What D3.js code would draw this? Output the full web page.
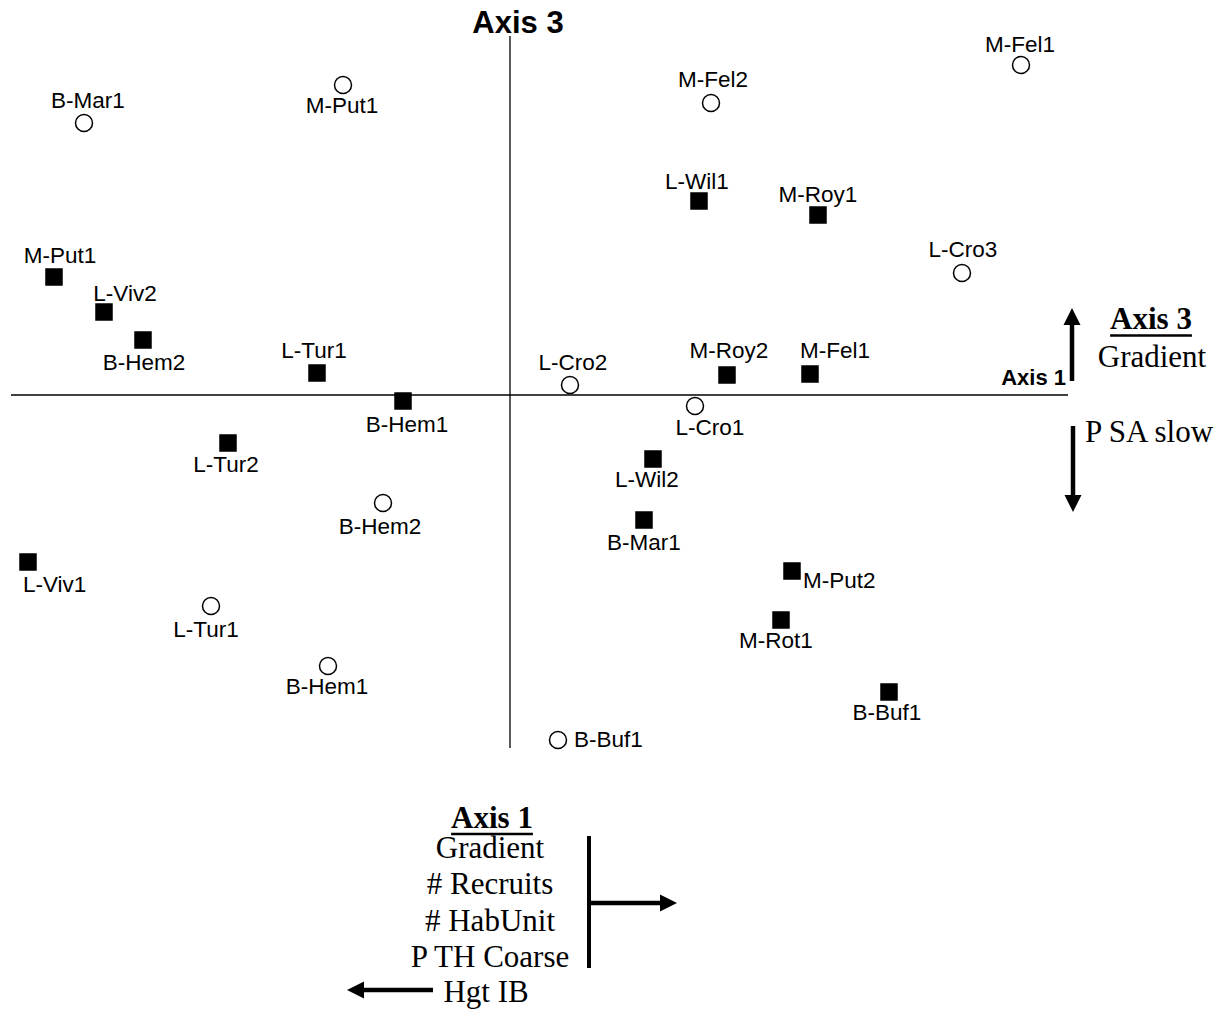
<!DOCTYPE html>
<html>
<head>
<meta charset="utf-8">
<script src="https://cdn.jsdelivr.net/npm/d3@7"></script>
<style>
  html, body { margin: 0; padding: 0; background: #fff; }
  svg { display: block; }
</style>
</head>
<body>
<svg id="chart" width="1223" height="1015"></svg>
<script>
// ---- Data (ordination scores, Axis 1 = x, Axis 3 = y) ----
const circleLabels = ["B-Mar1","M-Put1","M-Fel1","M-Fel2","L-Cro3","L-Cro2","L-Cro1","B-Hem2","L-Tur1","B-Hem1","B-Buf1"];
const circleAxis1  = [-2.13, -0.835, 2.555, 1.005, 2.26, 0.30, 0.925, -0.635, -1.495, -0.91, 0.24];
const circleAxis3  = [ 1.36,  1.55,  1.65,  1.46,  0.61, 0.05, -0.055, -0.54, -1.055, -1.355, -1.725];

const squareLabels = ["M-Put1","L-Viv2","B-Hem2","L-Tur1","B-Hem1","L-Tur2","L-Viv1","L-Wil1","M-Roy1","M-Roy2","M-Fel1","L-Wil2","B-Mar1","M-Put2","M-Rot1","B-Buf1"];
const squareAxis1  = [-2.28, -2.03, -1.835, -0.965, -0.535, -1.41, -2.41, 0.945, 1.54, 1.085, 1.50, 0.715, 0.67, 1.41, 1.355, 1.895];
const squareAxis3  = [ 0.59,  0.415, 0.275,  0.11,  -0.03,  -0.24, -0.835, 0.97, 0.90, 0.10, 0.105, -0.32, -0.625, -0.88, -1.125, -1.485];

const axis1Legend = ["Gradient", "# Recruits", "# HabUnit", "P TH Coarse"];
const axis1LegendNeg = ["Hgt IB"];
const axis3LegendPos = ["Gradient"];
const axis3LegendNeg = ["P SA slow"];

// ---- Layout (label placement relative to marker, px: [dx, dy, anchor]) ----
const circleLabelNudge = [[4,-15,"middle"],[-1,28,"middle"],[-1,-13,"middle"],[2,-16,"middle"],[1,-16,"middle"],[3,-15,"middle"],[15,29,"middle"],[-3,31,"middle"],[-5,31,"middle"],[-1,28,"middle"],[16,7,"start"]];
const squareLabelNudge = [[6,-14,"middle"],[21,-11,"middle"],[1,30,"middle"],[-3,-15,"middle"],[4,31,"middle"],[-2,29,"middle"],[-5,30,"start"],[-2,-12,"middle"],[0,-13,"middle"],[2,-17,"middle"],[-10,-16,"start"],[-6,28,"middle"],[0,30,"middle"],[11,17,"start"],[-5,28,"middle"],[-2,28,"middle"]];

const svg = d3.select("#chart");
const x = d3.scaleLinear().domain([-2.5, 2.8]).range([10, 1070]);
const y = d3.scaleLinear().domain([-1.8, 1.8]).range([755, 35]);

const sans = "'Liberation Sans', Arial, sans-serif";
const serif = "'Liberation Serif', 'Times New Roman', serif";

// Axes through origin
svg.append("line").attr("x1", x(-2.495)).attr("x2", x(2.79)).attr("y1", y(0)).attr("y2", y(0))
  .attr("stroke", "#000").attr("stroke-width", 1.3);
svg.append("line").attr("x1", x(0)).attr("x2", x(0)).attr("y1", y(1.795)).attr("y2", y(-1.765))
  .attr("stroke", "#000").attr("stroke-width", 1.3);

svg.append("text").attr("x", 518).attr("y", 33).attr("text-anchor", "middle")
  .attr("font-family", sans).attr("font-weight", "bold").attr("font-size", 31).text("Axis 3");
svg.append("text").attr("x", 1066).attr("y", 385).attr("text-anchor", "end")
  .attr("font-family", sans).attr("font-weight", "bold").attr("font-size", 22).text("Axis 1");

// Points
const circles = circleLabels.map((l, i) => ({label: l, a1: circleAxis1[i], a3: circleAxis3[i], nudge: circleLabelNudge[i]}));
const squares = squareLabels.map((l, i) => ({label: l, a1: squareAxis1[i], a3: squareAxis3[i], nudge: squareLabelNudge[i]}));

svg.append("g").selectAll("circle").data(circles).join("circle")
  .attr("cx", d => x(d.a1)).attr("cy", d => y(d.a3)).attr("r", 8.5)
  .attr("fill", "#fff").attr("stroke", "#000").attr("stroke-width", 1.5);

const sq = 17.5;
svg.append("g").selectAll("rect").data(squares).join("rect")
  .attr("x", d => x(d.a1) - sq / 2).attr("y", d => y(d.a3) - sq / 2)
  .attr("width", sq).attr("height", sq).attr("fill", "#000");

svg.append("g").selectAll("text").data(circles.concat(squares)).join("text")
  .attr("x", d => x(d.a1) + d.nudge[0]).attr("y", d => y(d.a3) + d.nudge[1])
  .attr("text-anchor", d => d.nudge[2])
  .attr("font-family", sans).attr("font-size", 22.5).attr("fill", "#000")
  .text(d => d.label);

// Arrow helper
function arrow(x1, y1, x2, y2, w, head, hw) {
  const dx = x2 - x1, dy = y2 - y1, len = Math.hypot(dx, dy);
  const ux = dx / len, uy = dy / len;
  const bx = x2 - ux * head, by = y2 - uy * head;
  svg.append("line").attr("x1", x1).attr("y1", y1).attr("x2", bx + ux).attr("y2", by + uy)
    .attr("stroke", "#000").attr("stroke-width", w);
  svg.append("path")
    .attr("d", `M${x2},${y2}L${bx - uy * hw},${by + ux * hw}L${bx + uy * hw},${by - ux * hw}Z`)
    .attr("fill", "#000");
}

// Axis 3 legend (right)
arrow(1072, 381, 1072, 308, 4.5, 17, 8.5);
arrow(1073, 426, 1073, 512, 4.5, 17, 8.5);

const ax3 = svg.append("text").attr("x", 1151).attr("y", 329).attr("text-anchor", "middle")
  .attr("font-family", serif).attr("font-weight", "bold").attr("font-size", 31).text("Axis 3");
let bb = ax3.node().getBBox();
svg.append("line").attr("x1", bb.x).attr("x2", bb.x + bb.width).attr("y1", 335.5).attr("y2", 335.5)
  .attr("stroke", "#000").attr("stroke-width", 2.5);
svg.append("text").attr("x", 1152).attr("y", 367).attr("text-anchor", "middle")
  .attr("font-family", serif).attr("font-size", 31).text(axis3LegendPos[0]);
svg.append("text").attr("x", 1085).attr("y", 442).attr("text-anchor", "start")
  .attr("font-family", serif).attr("font-size", 31).text(axis3LegendNeg[0]);

// Axis 1 legend (bottom)
const ax1 = svg.append("text").attr("x", 492).attr("y", 828).attr("text-anchor", "middle")
  .attr("font-family", serif).attr("font-weight", "bold").attr("font-size", 31).text("Axis 1");
bb = ax1.node().getBBox();
svg.append("line").attr("x1", bb.x).attr("x2", bb.x + bb.width).attr("y1", 834).attr("y2", 834)
  .attr("stroke", "#000").attr("stroke-width", 2.5);

svg.append("g").selectAll("text").data(axis1Legend).join("text")
  .attr("x", 490).attr("y", (d, i) => 858 + i * 36.3).attr("text-anchor", "middle")
  .attr("font-family", serif).attr("font-size", 31).text(d => d);
svg.append("text").attr("x", 486).attr("y", 1002).attr("text-anchor", "middle")
  .attr("font-family", serif).attr("font-size", 31).text(axis1LegendNeg[0]);

svg.append("line").attr("x1", 589).attr("x2", 589).attr("y1", 836).attr("y2", 968)
  .attr("stroke", "#000").attr("stroke-width", 4);
arrow(589, 903, 677, 903, 4.5, 17, 8.5);
arrow(433, 990, 347, 990, 4.5, 17, 8.5);
</script>
</body>
</html>
